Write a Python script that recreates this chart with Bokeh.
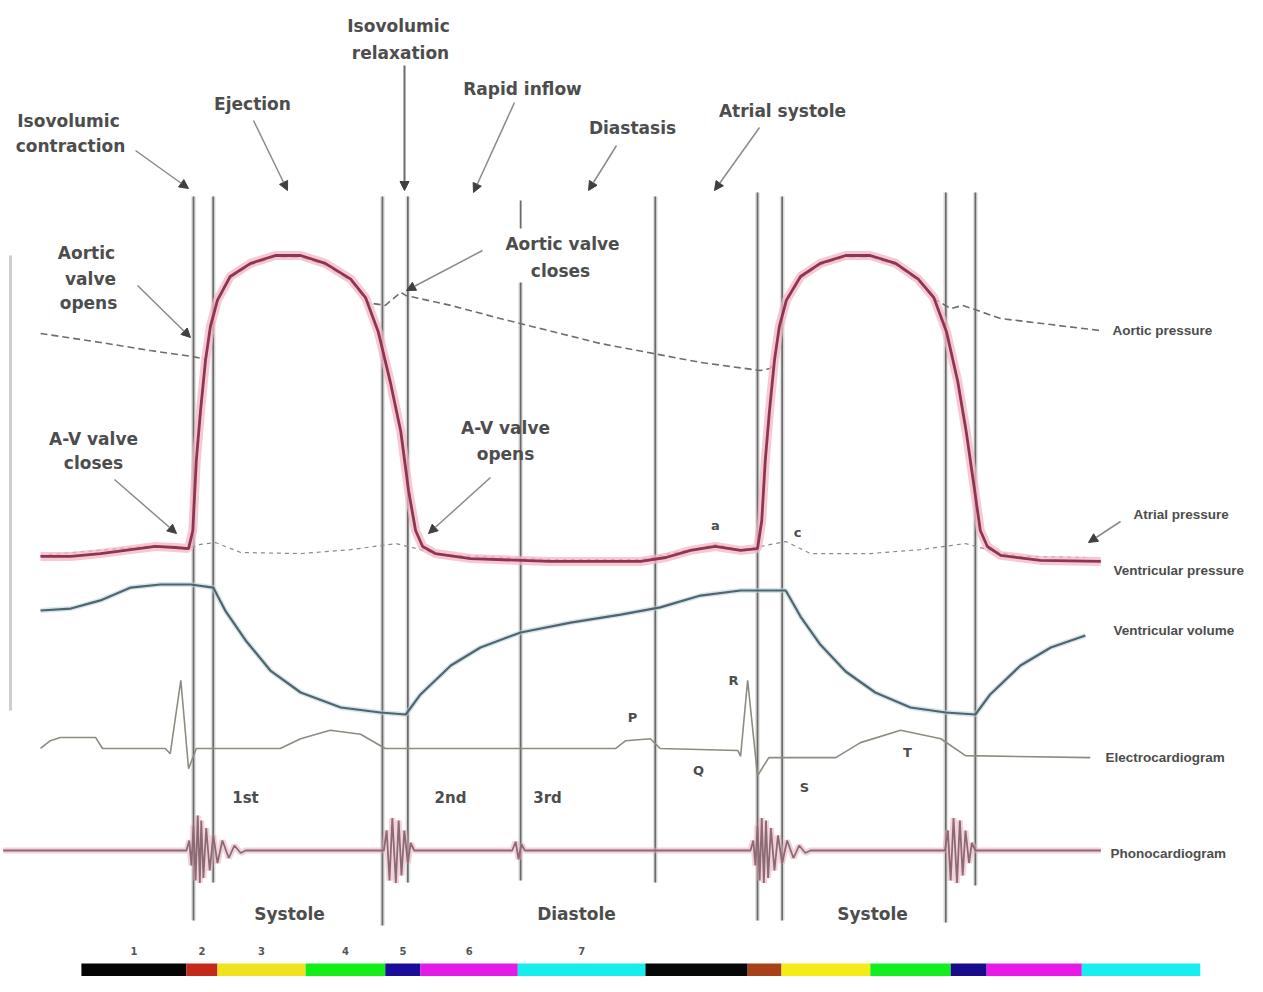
from bokeh.plotting import figure
from bokeh.models import Range1d, Arrow, NormalHead, Label
from bokeh.embed import file_html
from bokeh.resources import INLINE
from bokeh.core.properties import value

# ---------------- data ----------------
# time in ms, 0 = closure of the A-V valves in the first beat
vent_t = [-217, -174, -132, -89, -54, -26, -7, -1, 4, 10, 17, 24, 34, 52, 81, 116, 152, 187, 223, 244,
          262, 279, 294, 305, 315, 325, 343, 393, 506, 634, 670, 705, 740, 776, 800, 806, 811, 817, 824, 831,
          841, 861, 889, 925, 960, 996, 1028, 1050, 1068, 1084, 1096, 1108, 1116, 1126, 1145, 1201, 1287]
vent_p = [5.4, 5.4, 6.5, 8.0, 9.2, 8.8, 8.4, 15.3, 42, 61, 80, 93, 103, 112, 117, 120, 120, 117, 111, 104,
          91, 72, 53, 30.5, 15.3, 9.2, 6.5, 4.6, 3.5, 3.5, 5.0, 7.7, 9.2, 7.7, 8.4, 19, 42, 61, 80, 93,
          103, 112, 117, 120, 120, 117, 111, 104, 91, 72, 53, 30.5, 15.3, 9.2, 5.8, 3.9, 3.5]

aor_t = [-217, -132, -61, -1, 17, 24, 34, 52, 81, 116, 152, 187, 223, 248, 272, 294, 301, 365, 435, 577,
         719, 804, 818, 824, 831, 841, 861, 889, 925, 960, 996, 1028, 1050, 1074, 1091, 1145, 1216, 1287]
aor_p = [90.3, 86.9, 83.8, 81.5, 80.5, 92.5, 102.5, 111.5, 116.5, 119.5, 119.5, 116.5, 110.5, 102, 101, 106, 104.8, 101, 96, 86.5,
         79.3, 76.2, 77, 79.5, 92.5, 102.5, 111.5, 116.5, 119.5, 119.5, 116.5, 110.5, 103.6, 99.8, 101, 96, 93.7, 91.4]

atr_t = [-217, -54, -11, 10, 31, 67, 152, 223, 287, 322, 350, 506, 634, 705, 740, 776, 804, 840, 875, 960,
         1031, 1095, 1130, 1173, 1265]
atr_p = [5.8, 9.6, 8.0, 10.0, 10.7, 6.9, 6.5, 8.0, 10.3, 8.0, 6.1, 4.2, 4.2, 8.0, 10.0, 8.0, 9.2, 11.1, 6.5, 6.5,
         8.0, 10.3, 7.7, 5.4, 5.0]

vol_t = [-217, -174, -132, -89, -47, -4, 28, 45, 74, 109, 152, 209, 265, 301, 322, 365, 407, 464, 535, 606,
         662, 719, 776, 840, 861, 889, 925, 967, 1017, 1067, 1109, 1130, 1173, 1216, 1265]
vol_ml = [117.7, 118.9, 123.9, 131.8, 133.7, 133.7, 131.8, 117.7, 99.3, 80.8, 67.3, 58.1, 55, 53.8, 66.1, 83.9, 95, 104.2, 110.3, 115.2,
          119.6, 126.9, 130, 130, 114, 96.8, 80.2, 67.3, 58.1, 55, 53.8, 66.1, 83.9, 95, 102.3]

ecg_t = [-217, -203, -189, -139, -129, -40, -33, -18, -7, 4, 123, 152, 194, 237, 272, 599, 613, 648, 662, 772,
         776, 786, 800, 816, 911, 946, 1003, 1060, 1095, 1272]
ecg_mv = [0, 0.12, 0.17, 0.17, 0, 0, -0.08, 1.05, -0.31, 0, 0, 0.15, 0.28, 0.22, 0, 0, 0.12, 0.15, 0, -0.03,
          -0.12, 1.05, -0.42, -0.14, -0.14, 0.09, 0.28, 0.15, -0.11, -0.14]

pcg_t = [-270, -10, -6, -3, 0, 3, 6, 9, 11, 14, 18, 23, 28, 34, 41, 50, 58, 67, 74,
         270, 274, 278, 282, 287, 291, 295, 299, 304, 308, 313,
         452, 457, 461, 465, 470,
         790, 794, 797, 800, 803, 806, 809, 812, 815, 819, 824, 829, 835, 842, 851, 859, 868, 875,
         1066, 1070, 1074, 1078, 1083, 1087, 1091, 1095, 1100, 1104, 1109, 1287]
pcg_a = [0, 0, 0.4, -0.6, 1.0, -1.2, 1.4, -1.3, 1.2, -1.1, 0.9, -0.8, 0.6, -0.5, 0.4, -0.3, 0.2, -0.1, 0,
         0, 0.8, -1.2, 1.3, -1.3, 1.2, -1.0, 0.8, -0.5, 0.3, 0,
         0, 0.35, -0.35, 0.25, 0,
         0, 0.4, -0.6, 1.0, -1.2, 1.3, -1.3, 1.2, -1.1, 0.9, -0.8, 0.6, -0.5, 0.4, -0.3, 0.2, -0.1, 0,
         0, 0.8, -1.2, 1.3, -1.3, 1.2, -1.0, 0.8, -0.5, 0.3, 0, 0]

event_t = [0, 28, 268, 304, 464, 655, 800, 835, 1067, 1109]

phase_start = [-159, -10, 34, 159, 272, 322, 460, 641, 786, 834, 960, 1074, 1125, 1260]
phase_end = [-10, 34, 159, 272, 322, 460, 641, 786, 834, 960, 1074, 1125, 1260, 1428]
phase_color = ["#050505", "#c42a1c", "#f0e21e", "#14ee18", "#1c0c9c", "#e41ae8", "#16eeee",
               "#060808", "#a8401a", "#f4ec1a", "#12ee20", "#180c8c", "#e81ae8", "#16eef0"]
phase_labels = ["1", "2", "3", "4", "5", "6", "7"]

# ---------------- layout (screen positions) ----------------
event_top = [196, 196, 196, 196, 282, 196, 192, 196, 192, 192]
event_bot = [920, 882, 925, 882, 880, 882, 920, 920, 922, 885]

p = figure(width=1247, height=976, output_backend="svg", toolbar_location=None,
           x_range=Range1d(-273.76, 1494.99), y_range=Range1d(976, 0),
           x_axis_location=None, y_axis_location=None, min_border=0,
           outline_line_color=None, background_fill_color="white", title=None)
p.extra_x_ranges = {"px": Range1d(0, 1247)}
p.extra_y_ranges = {"pressure": Range1d(-154.56, 217.11), "volume": Range1d(-107.25, 492.63),
                    "ecg": Range1d(-3.508, 11.508), "phono": Range1d(-5.04, 34.0)}
p.xgrid.visible = False
p.ygrid.visible = False

# faint left frame line
p.segment(x0=[10], y0=[255], x1=[10], y1=[710], x_range_name="px", line_color="#cfcfcf", line_width=3)

# event lines
p.segment(x0=event_t, y0=event_top, x1=event_t, y1=event_bot, line_color="#d2d2d2", line_width=5, line_alpha=0.6)
p.segment(x0=event_t, y0=event_top, x1=event_t, y1=event_bot, line_color="#6a6a6a", line_width=1.8)
# short stub of the rapid-inflow line above the "Aortic valve closes" label
p.segment(x0=[event_t[4]], y0=[200], x1=[event_t[4]], y1=[228], line_color="#6a6a6a", line_width=1.8)

# phase colour bar
p.quad(left=phase_start, right=phase_end, top=[963] * len(phase_start), bottom=[976] * len(phase_start),
       fill_color=phase_color, line_color=None)
mids = [(s + e) / 2 for s, e in zip(phase_start[:7], phase_end[:7])]
p.text(x=mids, y=[950] * 7, text=phase_labels, text_font=value("DejaVu Sans"), text_font_size="10px",
       text_align="center", text_baseline="middle", text_color="#555555", text_font_style="bold")

# atrial pressure (thin dashed)
p.line(atr_t, atr_p, y_range_name="pressure", line_color="#8a8a8a", line_width=1.2, line_dash="4 4")
# aortic pressure (dashed)
p.line(aor_t, aor_p, y_range_name="pressure", line_color="#6e6e6e", line_width=1.6, line_dash="7 4")

# ventricular volume
p.line(vol_t, vol_ml, y_range_name="volume", line_color="#bcd4d8", line_width=5, line_alpha=0.6)
p.line(vol_t, vol_ml, y_range_name="volume", line_color="#4e6470", line_width=2.2)

# ECG
p.line(ecg_t, ecg_mv, y_range_name="ecg", line_color="#8c8c80", line_width=1.6)

# phonocardiogram
p.line(pcg_t, pcg_a, y_range_name="phono", line_color="#eaa6b8", line_width=6, line_alpha=0.5)
p.line(pcg_t, pcg_a, y_range_name="phono", line_color="#8c6a74", line_width=1.8)

# ventricular pressure
p.line(vent_t, vent_p, y_range_name="pressure", line_color="#f3b5c6", line_width=9, line_alpha=0.75)
p.line(vent_t, vent_p, y_range_name="pressure", line_color="#8e3552", line_width=2.8)

# ---------------- annotations ----------------
def arr(x0, y0, x1, y1, w=1.5, c="#8a8a8a"):
    p.add_layout(Arrow(x_start=x0, y_start=y0, x_end=x1, y_end=y1, x_range_name="px",
                       line_color=c, line_width=w,
                       end=NormalHead(size=9, fill_color="#404040", line_color="#404040")))

def lab(x, y, text, size="17px", align="center", font="DejaVu Sans", color="#4d4d4d"):
    p.add_layout(Label(x=x, y=y, text=text, x_range_name="px", text_font=font, text_font_style="bold",
                       text_font_size=size, text_color=color, text_align=align, text_baseline="middle"))

arr(135, 150, 188, 188)
arr(253, 120, 287, 190)
arr(404, 65, 404, 190, w=2, c="#6a6a6a")
arr(514, 102, 473, 192)
arr(616, 145, 588, 190)
arr(759, 127, 714, 190)
arr(137, 285, 190, 337)
arr(482, 250, 406, 290)
arr(114, 479, 176, 533)
arr(490, 477, 428, 533)
arr(1120, 521, 1088, 542)

lab(68, 120, "Isovolumic")
lab(70, 145, "contraction")
lab(252, 103, "Ejection")
lab(398, 25, "Isovolumic")
lab(400, 52, "relaxation")
lab(522, 88, "Rapid inflow")
lab(632, 127, "Diastasis")
lab(782, 110, "Atrial systole")
lab(86, 252, "Aortic")
lab(90, 278, "valve")
lab(88, 302, "opens")
lab(562, 243, "Aortic valve")
lab(560, 270, "closes")
lab(93, 438, "A-V valve")
lab(93, 462, "closes")
lab(505, 427, "A-V valve")
lab(505, 453, "opens")

rl = dict(size="13.5px", align="left", font="Liberation Sans")
lab(1112, 330, "Aortic pressure", **rl)
lab(1133, 514, "Atrial pressure", **rl)
lab(1113, 570, "Ventricular pressure", **rl)
lab(1113, 630, "Ventricular volume", **rl)
lab(1105, 757, "Electrocardiogram", **rl)
lab(1110, 853, "Phonocardiogram", **rl)

lab(245, 797, "1st", size="15px")
lab(450, 797, "2nd", size="15px")
lab(547, 797, "3rd", size="15px")
lab(289, 913, "Systole")
lab(576, 913, "Diastole")
lab(872, 913, "Systole")

for (x, y, t) in [(632, 717, "P"), (698, 770, "Q"), (733, 680, "R"), (804, 787, "S"), (907, 752, "T"),
                  (715, 525, "a"), (797, 532, "c")]:
    lab(x, y, t, size="13px")

open("out.html", "w").write(file_html(p, INLINE))
